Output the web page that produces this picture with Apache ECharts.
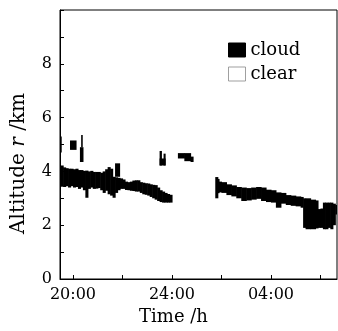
<!DOCTYPE html>
<html><head><meta charset="utf-8">
<script src="https://cdn.jsdelivr.net/npm/echarts@6/dist/echarts.min.js"></script>
<style>html,body{margin:0;padding:0;background:#fff}#c{width:338px;height:331px}</style>
</head><body><div id="c"></div>
<script>
// Main cloud layer, segment A (before midnight): start times (h), low / high altitude (km)
const segATimes = [19.47,19.6,19.7,19.8,19.9,20.0,20.1,20.2,20.3,20.4,20.5,20.6,20.7,20.8,20.9,21.0,21.1,21.2,21.3,21.4,21.5,21.6,21.7,21.8,21.9,22.0,22.1,22.2,22.3,22.4,22.5,22.6,22.7,22.8,22.9,23.0,23.1,23.2,23.3,23.4,23.5,23.6,23.7,23.8,23.9];
const segAHigh  = [4.22,4.15,4.12,4.1,4.1,4.08,4.1,4.05,4.05,4.02,4.03,4.0,4.02,3.98,3.98,3.98,3.95,4.0,4.08,4.16,4.1,3.8,3.78,3.76,3.74,3.7,3.62,3.6,3.62,3.66,3.67,3.67,3.6,3.58,3.56,3.55,3.52,3.5,3.49,3.4,3.3,3.25,3.2,3.16,3.13];
const segALow   = [3.43,3.42,3.45,3.4,3.45,3.4,3.42,3.35,3.4,3.3,3.02,3.35,3.4,3.35,3.36,3.38,3.3,3.2,3.28,3.15,3.1,3.02,3.2,3.3,3.35,3.35,3.31,3.3,3.28,3.27,3.25,3.25,3.2,3.15,3.13,3.1,3.05,3.0,2.95,2.9,2.86,2.84,2.84,2.84,2.84];
const segAEnd = 24.0;
// Segment B (after midnight)
const segBTimes = [25.75,25.85,25.9,26.0,26.2,26.4,26.6,26.8,27.0,27.2,27.4,27.6,27.8,28.0,28.2,28.4,28.6,28.8,29.0,29.2,29.3,29.4,29.6,29.8,29.9,30.0,30.1,30.2,30.3,30.4,30.5,30.6];
const segBHigh  = [3.79,3.72,3.62,3.6,3.52,3.48,3.42,3.4,3.38,3.4,3.42,3.4,3.32,3.3,3.22,3.2,3.12,3.1,3.07,3.05,3.0,3.0,2.95,2.92,2.6,2.62,2.84,2.84,2.84,2.84,2.8,2.75];
const segBLow   = [3.0,3.19,3.22,3.2,3.12,3.07,3.0,2.9,2.92,2.95,2.98,2.9,2.86,2.84,2.65,2.8,2.75,2.72,2.7,2.65,1.9,1.85,1.85,1.88,1.9,1.9,1.85,1.85,1.9,1.85,2.0,2.4];
const segBEnd = 30.7;
// Isolated upper cloud patches
const patchStart = [19.47,19.88,20.33,20.28,21.7,23.5,23.5,23.66,24.24,24.5,24.75];
const patchEnd   = [19.52,20.12,20.37,20.4,21.88,23.72,23.57,23.72,24.5,24.75,24.85];
const patchLow   = [4.7,4.8,4.9,4.35,3.8,4.22,4.22,4.22,4.48,4.38,4.35];
const patchHigh  = [5.3,5.15,5.35,4.9,4.3,4.48,4.76,4.66,4.68,4.68,4.55];
// Axis ticks
const xTickValues = [20,24,28];
const xTickLabels = ['20:00','24:00','04:00'];
const xMinorTicks = [20,22,24,26,28,30];

function rects(times, low, high, end){
  const out=[];
  for(let i=0;i<times.length;i++){
    const t1 = i<times.length-1 ? times[i+1] : end;
    out.push([times[i], t1, low[i], high[i]]);
  }
  return out;
}
const cloudData = rects(segATimes,segALow,segAHigh,segAEnd)
  .concat(rects(segBTimes,segBLow,segBHigh,segBEnd))
  .concat(patchStart.map((s,i)=>[s,patchEnd[i],patchLow[i],patchHigh[i]]));

const FONT='DejaVu Serif';
const chart = echarts.init(document.getElementById('c'), null, {renderer:'canvas'});
chart.setOption({
  animation:false,
  backgroundColor:'#fff',
  grid:{left:60,right:1,top:10,bottom:45,show:true,borderColor:'#000',borderWidth:1,backgroundColor:'transparent'},
  legend:{
    orient:'vertical', left:223, top:36, itemGap:6, itemWidth:17, itemHeight:14, itemTextGap:3,
    textStyle:{fontFamily:FONT,fontSize:18,color:'#000'},
    data:[
      {name:'cloud',icon:'rect',itemStyle:{color:'#000',borderColor:'#000',borderWidth:1}},
      {name:'clear',icon:'rect',itemStyle:{color:'#fff',borderColor:'#888',borderWidth:1}}
    ]
  },
  xAxis:{
    type:'value', min:19.475, max:30.67,
    name:'Time /h', nameLocation:'middle', nameGap:29,
    nameTextStyle:{fontFamily:FONT,fontSize:18,color:'#000',padding:[0,50,0,0]},
    axisLine:{show:true,lineStyle:{color:'#000',width:1}},
    axisTick:{show:true,inside:true,length:4,customValues:xMinorTicks,lineStyle:{color:'#000'}},
    axisLabel:{customValues:xTickValues,formatter:v=>xTickLabels[xTickValues.indexOf(v)],
      fontFamily:FONT,fontSize:16,color:'#000',margin:8},
    splitLine:{show:false}
  },
  yAxis:{
    type:'value', min:0, max:10, interval:1,
    name:'{a|Altitude }{i|r}{a| /km}', nameLocation:'middle', nameGap:31, nameRotate:90,
    nameTextStyle:{padding:[0,38,0,0],rich:{a:{fontFamily:FONT,fontSize:20,color:'#000'},i:{fontFamily:FONT,fontSize:20,fontStyle:'italic',color:'#000'}}},
    axisLine:{show:true,lineStyle:{color:'#000',width:1}},
    axisTick:{show:true,inside:true,length:4,lineStyle:{color:'#000'}},
    axisLabel:{formatter:v=>(v%2===0&&v<10)?String(v):'',fontFamily:FONT,fontSize:16,color:'#000',margin:8},
    splitLine:{show:false}
  },
  series:[
    {name:'cloud',type:'custom',clip:true,data:cloudData,encode:{x:[0,1],y:[2,3]},
     itemStyle:{color:'#000'},
     renderItem:function(params,api){
       const p0=api.coord([api.value(0),api.value(3)]);
       const p1=api.coord([api.value(1),api.value(2)]);
       return {type:'rect',shape:{x:p0[0],y:p0[1],width:p1[0]-p0[0]+0.6,height:p1[1]-p0[1]},style:{fill:'#000'}};
     }},
    {name:'clear',type:'scatter',data:[],itemStyle:{color:'#fff',borderColor:'#888',borderWidth:1}}
  ]
});
</script></body></html>
